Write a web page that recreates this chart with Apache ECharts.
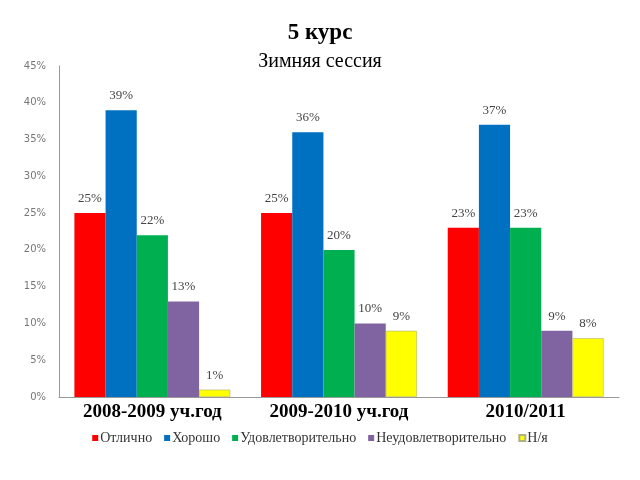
<!DOCTYPE html>
<html><head><meta charset="utf-8">
<script src="https://cdn.jsdelivr.net/npm/echarts@6/dist/echarts.min.js"></script>
<style>html,body{margin:0;padding:0;background:#fff}#c{width:640px;height:480px}</style>
</head><body><div id="c"></div>
<script>
const categories = ['2008-2009 уч.год', '2009-2010 уч.год', '2010/2011'];
const seriesNames = ['Отлично', 'Хорошо', 'Удовлетворительно', 'Неудовлетворительно', 'Н/я'];
const excellent = [25, 25, 23];
const good = [39, 36, 37];
const satisfactory = [22, 20, 23];
const unsatisfactory = [13, 10, 9];
const absent = [1, 9, 8];
const colors = ['#FF0000', '#0070C0', '#00B050', '#8064A2', '#FFFF00'];
const values = [excellent, good, satisfactory, unsatisfactory, absent];

const chart = echarts.init(document.getElementById('c'));
chart.setOption({
  animation: false,
  title: [
    {text: '5 курс', left: 'center', top: 17, textStyle: {fontFamily: 'Liberation Serif', fontWeight: 'bold', fontSize: 23, color: '#000'}},
    {text: 'Зимняя сессия', left: 'center', top: 47, textStyle: {fontFamily: 'Liberation Serif', fontWeight: 'normal', fontSize: 20, color: '#000'}}
  ],
  legend: {
    bottom: 30, left: 'center', itemWidth: 6, itemHeight: 6, itemGap: 12,
    icon: 'rect',
    textStyle: {fontFamily: 'Liberation Serif', fontSize: 14, color: '#333', padding: [0,0,0,-3]},
    data: seriesNames
  },
  grid: {left: 59, right: 21, top: 66, bottom: 83},
  xAxis: {
    type: 'category', data: categories,
    axisLine: {lineStyle: {color: '#999'}},
    axisTick: {show: false},
    axisLabel: {fontFamily: 'Liberation Serif', fontWeight: 'bold', fontSize: 19, color: '#000', margin: 6}
  },
  yAxis: {
    type: 'value', min: 0, max: 45, interval: 5,
    axisLine: {show: true, lineStyle: {color: '#999'}},
    axisTick: {show: false},
    splitLine: {show: false},
    axisLabel: {formatter: '{value}%', fontFamily: 'DejaVu Sans', fontSize: 10, color: '#777', margin: 13}
  },
  series: values.map((v, i) => ({
    name: seriesNames[i], type: 'bar', data: v,
    barGap: '0%', barCategoryGap: '16.5%',
    itemStyle: {color: colors[i], borderColor: i === 4 ? '#b0b080' : null, borderWidth: i === 4 ? 0.6 : 0},
    label: {show: true, position: 'top', distance: 8, formatter: '{c}%', fontFamily: 'Liberation Serif', fontSize: 13, color: '#444'}
  }))
});
</script></body></html>
